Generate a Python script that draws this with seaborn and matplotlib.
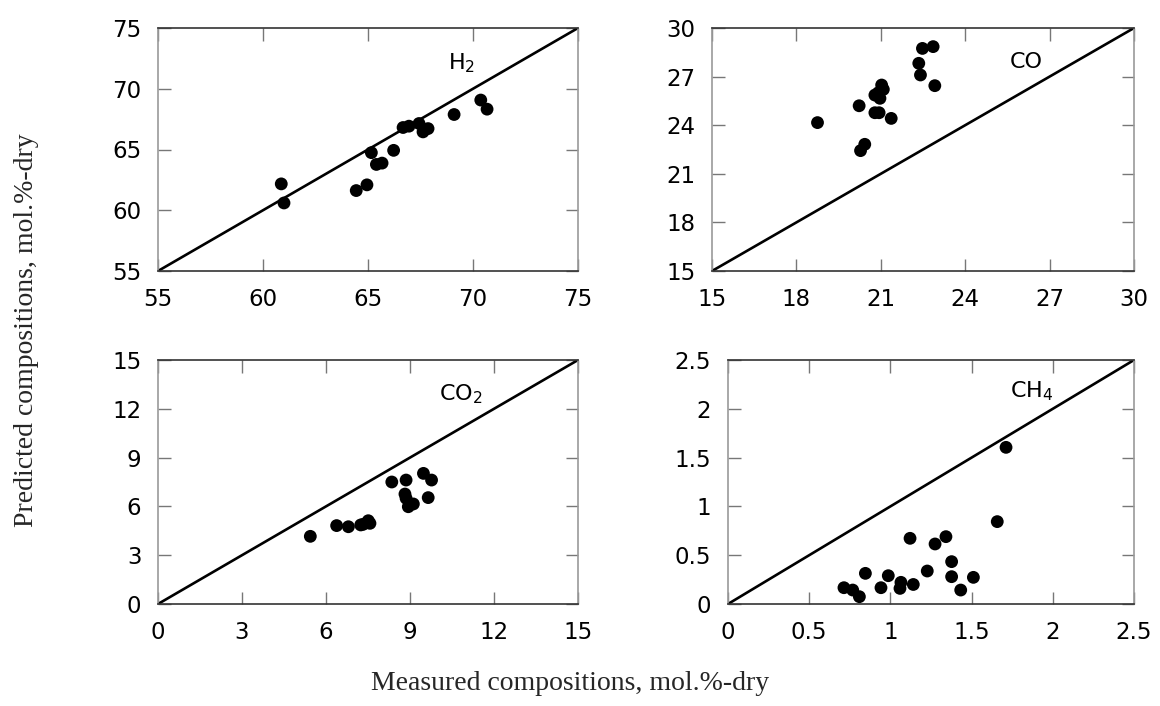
import matplotlib
matplotlib.use("Agg")
import matplotlib.pyplot as plt
import seaborn as sns
import pandas as pd
from matplotlib.ticker import FuncFormatter

# ---- data ----
h2_measured = [60.87, 61.0, 64.44, 64.95, 65.16, 65.4, 65.67, 66.22, 66.67, 66.95,
               67.43, 67.62, 67.86, 69.1, 70.37, 70.67]
h2_predicted = [62.17, 60.6, 61.62, 62.09, 64.74, 63.77, 63.88, 64.93, 66.81, 66.92,
                67.14, 66.45, 66.72, 67.88, 69.07, 68.32]

co_measured = [18.75, 20.23, 20.28, 20.43, 20.79, 20.94, 21.37, 20.79, 20.97, 21.03,
               21.09, 20.91, 22.35, 22.41, 22.48, 22.86, 22.92]
co_predicted = [24.16, 25.2, 22.43, 22.82, 24.77, 24.77, 24.42, 25.86, 25.66, 26.48,
                26.21, 26.0, 27.82, 27.1, 28.74, 28.85, 26.44]

co2_measured = [5.44, 6.38, 6.8, 7.24, 7.33, 7.51, 7.57, 8.35, 8.86, 8.82, 8.86,
                8.94, 9.12, 9.48, 9.77, 9.65]
co2_predicted = [4.16, 4.82, 4.75, 4.86, 4.9, 5.12, 4.96, 7.5, 7.62, 6.76, 6.5,
                 5.98, 6.15, 8.03, 7.62, 6.54]

ch4_measured = [0.714, 0.768, 0.809, 0.846, 0.942, 0.987, 1.065, 1.059, 1.121, 1.141,
                1.227, 1.275, 1.342, 1.377, 1.377, 1.433, 1.511, 1.658, 1.712]
ch4_predicted = [0.167, 0.143, 0.075, 0.314, 0.167, 0.29, 0.222, 0.16, 0.673, 0.2,
                 0.338, 0.615, 0.69, 0.434, 0.28, 0.143, 0.273, 0.844, 1.605]

panel_labels = ["H$_2$", "CO", "CO$_2$", "CH$_4$"]
h2_ticks = [55, 60, 65, 70, 75]
co_ticks = [15, 18, 21, 24, 27, 30]
co2_ticks = [0, 3, 6, 9, 12, 15]
ch4_ticks = [0, 0.5, 1, 1.5, 2, 2.5]

xlabel = "Measured compositions, mol.%-dry"
ylabel = "Predicted compositions, mol.%-dry"

sns.set_theme(style="white")
plt.rcParams["font.family"] = ["DejaVu Sans"]

fig = plt.figure(figsize=(11.6, 7.06), dpi=100)

W, H = 1160, 706
def rect(l, r, t, b):
    return [l / W, 1 - b / H, (r - l) / W, (b - t) / H]

axes_rects = [rect(158, 578, 28, 271), rect(712, 1134, 28, 271),
              rect(158, 578, 360, 604), rect(728, 1134, 360, 604)]

datasets = [(h2_measured, h2_predicted, h2_ticks, (68.8, 72.1)),
            (co_measured, co_predicted, co_ticks, (25.6, 27.9)),
            (co2_measured, co2_predicted, co2_ticks, (10.05, 12.9)),
            (ch4_measured, ch4_predicted, ch4_ticks, (1.736, 2.18))]

fmt = FuncFormatter(lambda v, p: f"{v:g}")

for r, (mx, py, ticks, lab_pos), lab in zip(axes_rects, datasets, panel_labels):
    ax = fig.add_axes(r)
    df = pd.DataFrame({"m": mx, "p": py})
    lo, hi = ticks[0], ticks[-1]
    diag = pd.DataFrame({"x": [lo, hi], "y": [lo, hi]})
    sns.lineplot(data=diag, x="x", y="y", ax=ax, color="black", lw=1.9, zorder=2)
    sns.scatterplot(data=df, x="m", y="p", ax=ax, color="black", s=85,
                    edgecolor="none", zorder=3)
    ax.set_xlim(lo, hi)
    ax.set_ylim(lo, hi)
    ax.set_xticks(ticks)
    ax.set_yticks(ticks)
    ax.xaxis.set_major_formatter(fmt)
    ax.yaxis.set_major_formatter(fmt)
    ax.set_xlabel("")
    ax.set_ylabel("")
    ax.tick_params(axis="both", which="both", direction="in", length=9, width=1.0,
                   color="#777777", labelsize=16.5, labelcolor="black",
                   top=True, right=True, left=True, bottom=True)
    ax.tick_params(axis="x", pad=12)
    ax.tick_params(axis="y", pad=12)
    for s in ["left", "right"]:
        ax.spines[s].set_color("#9a9a9a")
        ax.spines[s].set_linewidth(1.2)
    for s in ["top", "bottom"]:
        ax.spines[s].set_color("#333333")
        ax.spines[s].set_linewidth(1.2)
    ax.text(lab_pos[0], lab_pos[1], lab, fontsize=16, ha="left", va="center",
            color="black")

fig.text(570 / W, 1 - 683 / H, xlabel, ha="center", va="center",
         fontsize=20, family="Liberation Serif")
fig.text(27 / W, 1 - 330 / H, ylabel, ha="center", va="center",
         rotation=90, fontsize=20, family="Liberation Serif")

fig.savefig("out.png", dpi=100)
